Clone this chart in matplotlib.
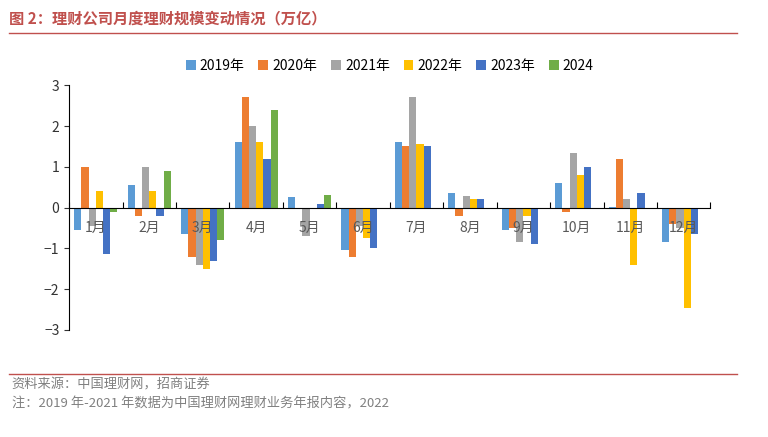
import numpy as np
import matplotlib
matplotlib.use("Agg")
import matplotlib.pyplot as plt

plt.rcParams['font.family'] = ['Noto Sans CJK SC']

months = ["1月","2月","3月","4月","5月","6月","7月","8月","9月","10月","11月","12月"]
series_names = ["2019年","2020年","2021年","2022年","2023年","2024"]
colors = ["#5b9bd5","#ed7d31","#a5a5a5","#ffc000","#4472c4","#70ad47"]
y2019 = [-0.55,0.55,-0.65,1.6,0.25,-1.05,1.6,0.35,-0.55,0.6,0.02,-0.85]
y2020 = [1.0,-0.2,-1.2,2.7,0.0,-1.2,1.5,-0.2,-0.5,-0.1,1.2,-0.4]
y2021 = [-0.45,1.0,-1.4,2.0,-0.7,-0.45,2.7,0.28,-0.85,1.35,0.2,-0.5]
y2022 = [0.4,0.4,-1.5,1.6,0.0,-0.75,1.55,0.2,-0.2,0.8,-1.4,-2.45]
y2023 = [-1.15,-0.2,-1.3,1.2,0.08,-1.0,1.5,0.2,-0.9,1.0,0.35,-0.65]
y2024 = [-0.1,0.9,-0.8,2.4,0.3,np.nan,np.nan,np.nan,np.nan,np.nan,np.nan,np.nan]
data = [y2019,y2020,y2021,y2022,y2023,y2024]

fig = plt.figure(figsize=(7.68,4.37), dpi=100)
fig.text(0.012,0.958,"图 2：理财公司月度理财规模变动情况（万亿）",fontsize=11,
         fontweight='bold',color='#c0504d',va='center')
fig.add_artist(plt.Line2D([0.012,0.96],[0.925,0.925],color='#c0504d',lw=1))
ax = fig.add_axes([0.09,0.245,0.835,0.56])
x = np.arange(12)
w = 0.135
for i,(d,c,n) in enumerate(zip(data,colors,series_names)):
    ax.bar(x+(i-2.5)*w, d, w, color=c, label=n)
ax.set_ylim(-3,3)
ax.set_xlim(-0.5,11.5)
ax.set_yticks([-3,-2,-1,0,1,2,3])
ax.spines['top'].set_visible(False); ax.spines['right'].set_visible(False)
ax.spines['bottom'].set_position(('data',0))
ax.set_xticks(np.arange(-0.5,12,1))
ax.set_xticklabels([])
ax.tick_params(axis='x',direction='in',length=4)
for i,m in enumerate(months):
    ax.text(i,-0.5,m,ha='center',va='center',fontsize=10,color='#595959')
ax.tick_params(axis='y',labelsize=10,colors='#333333',direction='out')
ax.legend(loc='lower center',bbox_to_anchor=(0.5,1.0),ncol=6,frameon=False,
          fontsize=10,handlelength=0.7,handleheight=0.7,columnspacing=1.0,handletextpad=0.3)
fig.add_artist(plt.Line2D([0.012,0.96],[0.145,0.145],color='#c0504d',lw=1))
fig.text(0.015,0.118,"资料来源：中国理财网，招商证券",fontsize=9.5,color='#808080',va='center')
fig.text(0.015,0.075,"注：2019 年-2021 年数据为中国理财网理财业务年报内容，2022",fontsize=9.5,color='#808080',va='center')
fig.savefig("out.png",dpi=100)
